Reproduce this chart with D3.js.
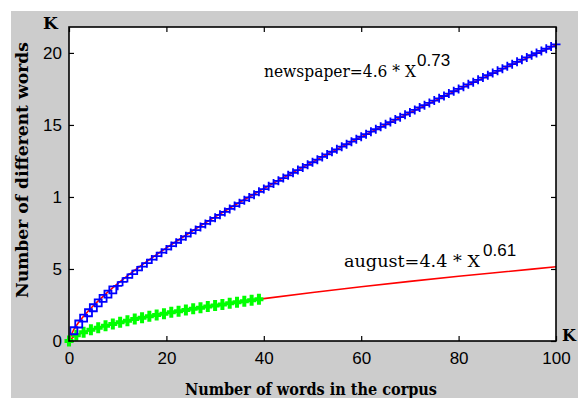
<!DOCTYPE html>
<html>
<head>
<meta charset="utf-8">
<script src="https://cdn.jsdelivr.net/npm/d3@7/dist/d3.min.js"></script>
<style>
  body { margin: 0; background: #fff; }
  .tick text { font-family: 'Liberation Sans', Arial, sans-serif; font-size: 17px; fill: #000; }
</style>
</head>
<body>
<svg id="chart" width="578" height="398"></svg>
<script>
// axis ticks
const xTicks = [0, 20, 40, 60, 80, 100];
const yTicks = [0, 5, 10, 15, 20];
const yTickLabels = ['0', '5', '1', '15', '20'];

// newspaper corpus: one marker per 1K words (x = 1..100)
const newsY = [
  0.71, 1.18, 1.59, 1.96, 2.31, 2.64, 2.96, 3.26, 3.55, 3.83,
  4.11, 4.38, 4.64, 4.90, 5.16, 5.40, 5.65, 5.89, 6.13, 6.36,
  6.59, 6.82, 7.04, 7.27, 7.49, 7.70, 7.92, 8.13, 8.34, 8.55,
  8.76, 8.96, 9.17, 9.37, 9.57, 9.77, 9.97, 10.16, 10.36, 10.55,
  10.74, 10.93, 11.12, 11.31, 11.50, 11.68, 11.87, 12.05, 12.23, 12.41,
  12.59, 12.78, 12.95, 13.14, 13.31, 13.49, 13.66, 13.84, 14.01, 14.18,
  14.36, 14.53, 14.70, 14.87, 15.04, 15.20, 15.37, 15.54, 15.71, 15.87,
  16.04, 16.21, 16.37, 16.53, 16.69, 16.85, 17.01, 17.18, 17.34, 17.50,
  17.66, 17.82, 17.97, 18.13, 18.29, 18.45, 18.60, 18.76, 18.91, 19.07,
  19.22, 19.38, 19.53, 19.69, 19.84, 19.99, 20.14, 20.29, 20.44, 20.59
];

// fitted curves (red)
const fitX = [0, 1, 2, 3, 5, 7, 10, 15, 20, 25, 30, 40, 50, 60, 70, 80, 90, 100];
const newsFitY = [0, 0.80, 1.30, 1.72, 2.45, 3.10, 3.98, 5.28, 6.46, 7.57, 8.62, 10.58, 12.42, 14.17, 15.85, 17.47, 19.03, 20.55];
const augustFitY = [0, 0.31, 0.47, 0.61, 0.83, 1.02, 1.26, 1.62, 1.93, 2.21, 2.47, 2.94, 3.37, 3.77, 4.14, 4.49, 4.82, 5.15];

// august corpus markers (green)
const augustX = [0, 1.5, 3, 4.5, 6, 7.5, 9, 10.5, 12, 13.5, 15, 16.5, 18, 19.5, 21, 22.5, 24, 25.5, 27, 28.5, 30, 31.5, 33, 34.5, 36, 37.5, 39];
const augustY = [0, 0.40, 0.61, 0.78, 0.92, 1.06, 1.18, 1.30, 1.41, 1.52, 1.62, 1.71, 1.81, 1.90, 1.99, 2.07, 2.15, 2.24, 2.31, 2.39, 2.47, 2.54, 2.62, 2.69, 2.76, 2.83, 2.90];

const svg = d3.select('#chart');
const plotLeft = 69, plotRight = 556, plotTop = 27, plotBottom = 341;

const xScale = d3.scaleLinear().domain([0, 100]).range([plotLeft, plotRight]);
const yScale = d3.scaleLinear().domain([0, 21.8]).range([plotBottom, plotTop]);

// figure background
svg.append('rect').attr('x', 11).attr('y', 11).attr('width', 567).attr('height', 387).style('fill', '#cccccc');
svg.append('rect')
  .attr('x', plotLeft).attr('y', plotTop)
  .attr('width', plotRight - plotLeft).attr('height', plotBottom - plotTop)
  .style('fill', '#fff');

// axes, ticks pointing inward
const gx = svg.append('g').attr('transform', `translate(0, ${plotBottom})`)
  .call(d3.axisBottom(xScale).tickValues(xTicks).tickSize(-5).tickPadding(11));
const gy = svg.append('g').attr('transform', `translate(${plotLeft}, 0)`)
  .call(d3.axisLeft(yScale).tickValues(yTicks).tickSize(-5).tickPadding(7)
    .tickFormat((d, i) => yTickLabels[i]));
const gt = svg.append('g').attr('transform', `translate(0, ${plotTop})`)
  .call(d3.axisTop(xScale).tickValues(xTicks).tickSize(-5).tickFormat(''));
const gr = svg.append('g').attr('transform', `translate(${plotRight}, 0)`)
  .call(d3.axisRight(yScale).tickValues(yTicks).tickSize(-5).tickFormat(''));
[gx, gy, gt, gr].forEach(g => {
  g.select('.domain').remove();
  g.selectAll('.tick line').style('stroke', '#000').style('stroke-width', 1.2);
});

// red fit lines, under the markers
const line = d3.line().x(d => xScale(d[0])).y(d => yScale(d[1])).curve(d3.curveMonotoneX);
svg.append('path').datum(fitX.map((x, i) => [x, newsFitY[i]]))
  .attr('d', line).style('fill', 'none').style('stroke', '#ff0000').style('stroke-width', 1.6);
svg.append('path').datum(fitX.map((x, i) => [x, augustFitY[i]]))
  .attr('d', line).style('fill', 'none').style('stroke', '#ff0000').style('stroke-width', 1.6);

// green markers
svg.append('g').selectAll('path')
  .data(augustX.map((x, i) => [x, augustY[i]]))
  .enter().append('path')
  .attr('transform', d => `translate(${xScale(d[0])}, ${yScale(d[1])})`)
  .attr('d', 'M-4.5,0H4.5M0,-5.5V5.5')
  .style('stroke', '#00ff00').style('stroke-width', 4).style('fill', 'none');

// blue markers
svg.append('g').selectAll('path')
  .data(newsY.map((y, i) => [i + 1, y]))
  .enter().append('path')
  .attr('transform', d => `translate(${xScale(d[0])}, ${yScale(d[1])})`)
  .attr('d', d => d[0] <= 9 ? 'M-3.5,-3.5H3.5V3.5H-3.5Z' : 'M-4.5,0H4.5M0,-4.5V4.5')
  .style('stroke', '#0000ff').style('stroke-width', 1.8).style('fill', 'none');

// plot frame
svg.append('rect')
  .attr('x', plotLeft).attr('y', plotTop)
  .attr('width', plotRight - plotLeft).attr('height', plotBottom - plotTop)
  .style('fill', 'none').style('stroke', '#000').style('stroke-width', 1.6);

// texts
const serif = "'DejaVu Serif', 'Liberation Serif', serif";
const sans = "'Liberation Sans', Arial, sans-serif";

svg.append('text').attr('x', 43).attr('y', 29).text('K')
  .style('font-family', serif).style('font-weight', 'bold').style('font-size', '17px');
svg.append('text').attr('x', 562).attr('y', 341).text('K')
  .style('font-family', serif).style('font-weight', 'bold').style('font-size', '16px');

svg.append('text').attr('x', 185).attr('y', 395)
  .attr('textLength', 252).attr('lengthAdjust', 'spacingAndGlyphs')
  .text('Number of words in the corpus')
  .style('font-family', serif).style('font-weight', 'bold').style('font-size', '16px');

svg.append('text').attr('transform', 'translate(28, 298) rotate(-90)')
  .attr('textLength', 256).attr('lengthAdjust', 'spacingAndGlyphs')
  .text('Number of different words')
  .style('font-family', serif).style('font-weight', 'bold').style('font-size', '17px');

svg.append('text').attr('x', 264).attr('y', 77)
  .attr('textLength', 152).attr('lengthAdjust', 'spacingAndGlyphs')
  .text('newspaper=4.6 * X')
  .style('font-family', serif).style('font-size', '16px');
svg.append('text').attr('x', 417).attr('y', 66).text('0.73')
  .style('font-family', sans).style('font-size', '17px');

svg.append('text').attr('x', 344).attr('y', 267)
  .attr('textLength', 136).attr('lengthAdjust', 'spacingAndGlyphs')
  .text('august=4.4 * X')
  .style('font-family', serif).style('font-size', '16px');
svg.append('text').attr('x', 483).attr('y', 256).text('0.61')
  .style('font-family', sans).style('font-size', '17px');
</script>
</body>
</html>
